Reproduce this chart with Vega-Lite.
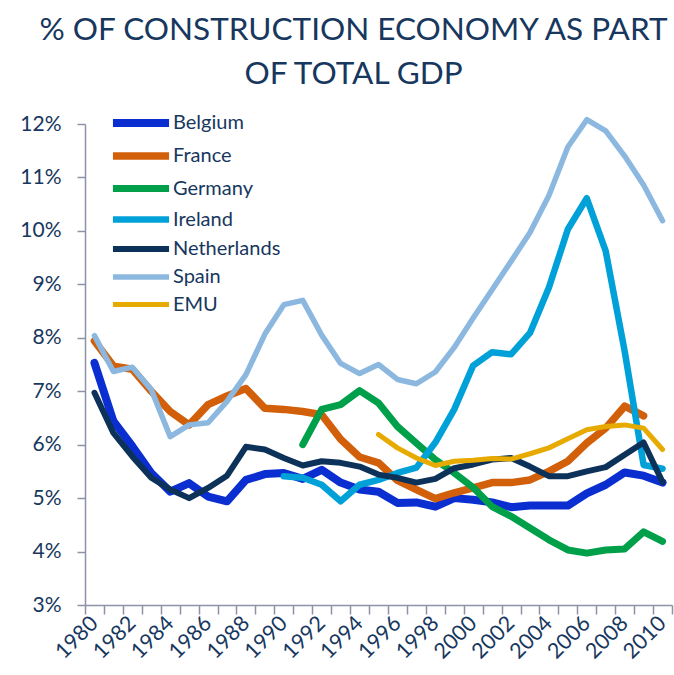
{
  "$schema": "https://vega.github.io/schema/vega-lite/v6.json",
  "width": 587,
  "height": 481,
  "autosize": {"type": "none"},
  "padding": {"left": 85, "top": 124, "right": 2, "bottom": 70},
  "background": "white",
  "title": {
    "text": ["% OF CONSTRUCTION ECONOMY AS PART", "OF TOTAL GDP"],
    "font": "Lato",
    "fontSize": 31.5,
    "fontWeight": "normal",
    "color": "#17375E",
    "anchor": "middle",
    "dx": -25,
    "lineHeight": 44,
    "offset": 16
  },
  "config": {
    "view": {"stroke": null},
    "font": "Lato"
  },
  "data": {
    "values": [
      {"c":"Belgium","y":1980,"v":7.53},{"c":"Belgium","y":1981,"v":6.44},{"c":"Belgium","y":1982,"v":5.97},{"c":"Belgium","y":1983,"v":5.47},{"c":"Belgium","y":1984,"v":5.12},{"c":"Belgium","y":1985,"v":5.28},{"c":"Belgium","y":1986,"v":5.03},{"c":"Belgium","y":1987,"v":4.94},{"c":"Belgium","y":1988,"v":5.34},{"c":"Belgium","y":1989,"v":5.45},{"c":"Belgium","y":1990,"v":5.47},{"c":"Belgium","y":1991,"v":5.36},{"c":"Belgium","y":1992,"v":5.53},{"c":"Belgium","y":1993,"v":5.29},{"c":"Belgium","y":1994,"v":5.16},{"c":"Belgium","y":1995,"v":5.12},{"c":"Belgium","y":1996,"v":4.91},{"c":"Belgium","y":1997,"v":4.92},{"c":"Belgium","y":1998,"v":4.84},{"c":"Belgium","y":1999,"v":5.0},{"c":"Belgium","y":2000,"v":4.97},{"c":"Belgium","y":2001,"v":4.92},{"c":"Belgium","y":2002,"v":4.83},{"c":"Belgium","y":2003,"v":4.86},{"c":"Belgium","y":2004,"v":4.86},{"c":"Belgium","y":2005,"v":4.86},{"c":"Belgium","y":2006,"v":5.09},{"c":"Belgium","y":2007,"v":5.25},{"c":"Belgium","y":2008,"v":5.48},{"c":"Belgium","y":2009,"v":5.42},{"c":"Belgium","y":2010,"v":5.29},
      {"c":"France","y":1980,"v":7.94},{"c":"France","y":1981,"v":7.47},{"c":"France","y":1982,"v":7.41},{"c":"France","y":1983,"v":7.0},{"c":"France","y":1984,"v":6.62},{"c":"France","y":1985,"v":6.37},{"c":"France","y":1986,"v":6.75},{"c":"France","y":1987,"v":6.91},{"c":"France","y":1988,"v":7.05},{"c":"France","y":1989,"v":6.68},{"c":"France","y":1990,"v":6.66},{"c":"France","y":1991,"v":6.62},{"c":"France","y":1992,"v":6.56},{"c":"France","y":1993,"v":6.1},{"c":"France","y":1994,"v":5.77},{"c":"France","y":1995,"v":5.66},{"c":"France","y":1996,"v":5.33},{"c":"France","y":1997,"v":5.16},{"c":"France","y":1998,"v":4.99},{"c":"France","y":1999,"v":5.1},{"c":"France","y":2000,"v":5.19},{"c":"France","y":2001,"v":5.29},{"c":"France","y":2002,"v":5.29},{"c":"France","y":2003,"v":5.34},{"c":"France","y":2004,"v":5.5},{"c":"France","y":2005,"v":5.69},{"c":"France","y":2006,"v":6.03},{"c":"France","y":2007,"v":6.31},{"c":"France","y":2008,"v":6.72},{"c":"France","y":2009,"v":6.54},
      {"c":"Germany","y":1991,"v":6.0},{"c":"Germany","y":1992,"v":6.66},{"c":"Germany","y":1993,"v":6.75},{"c":"Germany","y":1994,"v":7.01},{"c":"Germany","y":1995,"v":6.78},{"c":"Germany","y":1996,"v":6.34},{"c":"Germany","y":1997,"v":6.03},{"c":"Germany","y":1998,"v":5.72},{"c":"Germany","y":1999,"v":5.47},{"c":"Germany","y":2000,"v":5.2},{"c":"Germany","y":2001,"v":4.84},{"c":"Germany","y":2002,"v":4.66},{"c":"Germany","y":2003,"v":4.44},{"c":"Germany","y":2004,"v":4.22},{"c":"Germany","y":2005,"v":4.03},{"c":"Germany","y":2006,"v":3.97},{"c":"Germany","y":2007,"v":4.03},{"c":"Germany","y":2008,"v":4.05},{"c":"Germany","y":2009,"v":4.37},{"c":"Germany","y":2010,"v":4.19},
      {"c":"Ireland","y":1990,"v":5.41},{"c":"Ireland","y":1991,"v":5.38},{"c":"Ireland","y":1992,"v":5.25},{"c":"Ireland","y":1993,"v":4.94},{"c":"Ireland","y":1994,"v":5.25},{"c":"Ireland","y":1995,"v":5.34},{"c":"Ireland","y":1996,"v":5.47},{"c":"Ireland","y":1997,"v":5.57},{"c":"Ireland","y":1998,"v":6.04},{"c":"Ireland","y":1999,"v":6.66},{"c":"Ireland","y":2000,"v":7.48},{"c":"Ireland","y":2001,"v":7.73},{"c":"Ireland","y":2002,"v":7.69},{"c":"Ireland","y":2003,"v":8.09},{"c":"Ireland","y":2004,"v":8.94},{"c":"Ireland","y":2005,"v":10.03},{"c":"Ireland","y":2006,"v":10.61},{"c":"Ireland","y":2007,"v":9.62},{"c":"Ireland","y":2008,"v":7.75},{"c":"Ireland","y":2009,"v":5.62},{"c":"Ireland","y":2010,"v":5.55},
      {"c":"Netherlands","y":1980,"v":6.97},{"c":"Netherlands","y":1981,"v":6.22},{"c":"Netherlands","y":1982,"v":5.78},{"c":"Netherlands","y":1983,"v":5.38},{"c":"Netherlands","y":1984,"v":5.16},{"c":"Netherlands","y":1985,"v":5.0},{"c":"Netherlands","y":1986,"v":5.19},{"c":"Netherlands","y":1987,"v":5.42},{"c":"Netherlands","y":1988,"v":5.96},{"c":"Netherlands","y":1989,"v":5.91},{"c":"Netherlands","y":1990,"v":5.75},{"c":"Netherlands","y":1991,"v":5.61},{"c":"Netherlands","y":1992,"v":5.69},{"c":"Netherlands","y":1993,"v":5.66},{"c":"Netherlands","y":1994,"v":5.59},{"c":"Netherlands","y":1995,"v":5.44},{"c":"Netherlands","y":1996,"v":5.38},{"c":"Netherlands","y":1997,"v":5.29},{"c":"Netherlands","y":1998,"v":5.36},{"c":"Netherlands","y":1999,"v":5.56},{"c":"Netherlands","y":2000,"v":5.63},{"c":"Netherlands","y":2001,"v":5.72},{"c":"Netherlands","y":2002,"v":5.75},{"c":"Netherlands","y":2003,"v":5.59},{"c":"Netherlands","y":2004,"v":5.41},{"c":"Netherlands","y":2005,"v":5.41},{"c":"Netherlands","y":2006,"v":5.5},{"c":"Netherlands","y":2007,"v":5.58},{"c":"Netherlands","y":2008,"v":5.81},{"c":"Netherlands","y":2009,"v":6.04},{"c":"Netherlands","y":2010,"v":5.3},
      {"c":"Spain","y":1980,"v":8.04},{"c":"Spain","y":1981,"v":7.37},{"c":"Spain","y":1982,"v":7.45},{"c":"Spain","y":1983,"v":7.03},{"c":"Spain","y":1984,"v":6.15},{"c":"Spain","y":1985,"v":6.37},{"c":"Spain","y":1986,"v":6.41},{"c":"Spain","y":1987,"v":6.81},{"c":"Spain","y":1988,"v":7.31},{"c":"Spain","y":1989,"v":8.07},{"c":"Spain","y":1990,"v":8.62},{"c":"Spain","y":1991,"v":8.7},{"c":"Spain","y":1992,"v":8.05},{"c":"Spain","y":1993,"v":7.52},{"c":"Spain","y":1994,"v":7.33},{"c":"Spain","y":1995,"v":7.5},{"c":"Spain","y":1996,"v":7.22},{"c":"Spain","y":1997,"v":7.14},{"c":"Spain","y":1998,"v":7.36},{"c":"Spain","y":1999,"v":7.82},{"c":"Spain","y":2000,"v":8.37},{"c":"Spain","y":2001,"v":8.9},{"c":"Spain","y":2002,"v":9.43},{"c":"Spain","y":2003,"v":9.97},{"c":"Spain","y":2004,"v":10.66},{"c":"Spain","y":2005,"v":11.57},{"c":"Spain","y":2006,"v":12.08},{"c":"Spain","y":2007,"v":11.87},{"c":"Spain","y":2008,"v":11.4},{"c":"Spain","y":2009,"v":10.86},{"c":"Spain","y":2010,"v":10.19},
      {"c":"EMU","y":1995,"v":6.19},{"c":"EMU","y":1996,"v":5.94},{"c":"EMU","y":1997,"v":5.75},{"c":"EMU","y":1998,"v":5.61},{"c":"EMU","y":1999,"v":5.69},{"c":"EMU","y":2000,"v":5.71},{"c":"EMU","y":2001,"v":5.74},{"c":"EMU","y":2002,"v":5.73},{"c":"EMU","y":2003,"v":5.83},{"c":"EMU","y":2004,"v":5.94},{"c":"EMU","y":2005,"v":6.11},{"c":"EMU","y":2006,"v":6.28},{"c":"EMU","y":2007,"v":6.34},{"c":"EMU","y":2008,"v":6.37},{"c":"EMU","y":2009,"v":6.31},{"c":"EMU","y":2010,"v":5.91}
    ]
  },
  "mark": {"type": "line", "strokeCap": "round", "strokeJoin": "round", "clip": false},
  "encoding": {
    "x": {
      "field": "y",
      "type": "quantitative",
      "scale": {"domain": [1979.5, 2010.5], "nice": false, "zero": false},
      "axis": {
        "title": null,
        "grid": false,
        "values": [1979.5,1980.5,1981.5,1982.5,1983.5,1984.5,1985.5,1986.5,1987.5,1988.5,1989.5,1990.5,1991.5,1992.5,1993.5,1994.5,1995.5,1996.5,1997.5,1998.5,1999.5,2000.5,2001.5,2002.5,2003.5,2004.5,2005.5,2006.5,2007.5,2008.5,2009.5,2010.5],
        "labelExpr": "((datum.value + 0.5) % 2 == 0 && datum.value < 2010) ? toString(datum.value + 0.5) : ''",
        "labelOffset": 9.5,
        "labelAngle": -45,
        "labelAlign": "right",
        "labelBaseline": "middle",
        "labelFont": "Lato",
        "labelFontSize": 21.5,
        "labelColor": "#17375E",
        "labelOverlap": false,
        "labelFlush": false,
        "labelBound": false,
        "labelPadding": 6,
        "domainColor": "#8C93A6",
        "domainWidth": 1.5,
        "tickColor": "#8C93A6",
        "tickWidth": 1.5,
        "tickSize": 9
      }
    },
    "y": {
      "field": "v",
      "type": "quantitative",
      "scale": {"domain": [3, 12], "nice": false, "zero": false},
      "axis": {
        "title": null,
        "grid": false,
        "values": [3,4,5,6,7,8,9,10,11,12],
        "labelExpr": "datum.value + '%'",
        "labelFont": "Lato",
        "labelFontSize": 21,
        "labelColor": "#17375E",
        "labelPadding": 16,
        "labelOverlap": false,
        "labelFlush": false,
        "domainColor": "#8C93A6",
        "domainWidth": 1.5,
        "tickColor": "#8C93A6",
        "tickWidth": 1.5,
        "tickSize": 8
      }
    },
    "color": {
      "field": "c",
      "type": "nominal",
      "sort": ["Belgium","France","Germany","Ireland","Netherlands","Spain","EMU"],
      "scale": {
        "domain": ["Belgium","France","Germany","Ireland","Netherlands","Spain","EMU"],
        "range": ["#0A2ED0","#D2600A","#00A04A","#00A0D8","#0D3259","#8CB8E0","#E6AA00"]
      },
      "legend": {
        "title": null,
        "orient": "none",
        "legendX": 39,
        "legendY": -18,
        "padding": 0,
        "symbolType": "M-2.2,0H2.2",
        "symbolSize": 650,
        "symbolStrokeWidth": 5,
        "labelFont": "Lato",
        "labelFontSize": 20,
        "labelColor": "#17375E",
        "labelOffset": 15,
        "rowPadding": 0.5,
        "labelLimit": 300
      }
    },
    "strokeWidth": {
      "field": "c",
      "type": "nominal",
      "scale": {
        "domain": ["Belgium","France","Germany","Ireland","Netherlands","Spain","EMU"],
        "range": [8,5,5,5,5,5,5]
      },
      "legend": null
    }
  }
}
